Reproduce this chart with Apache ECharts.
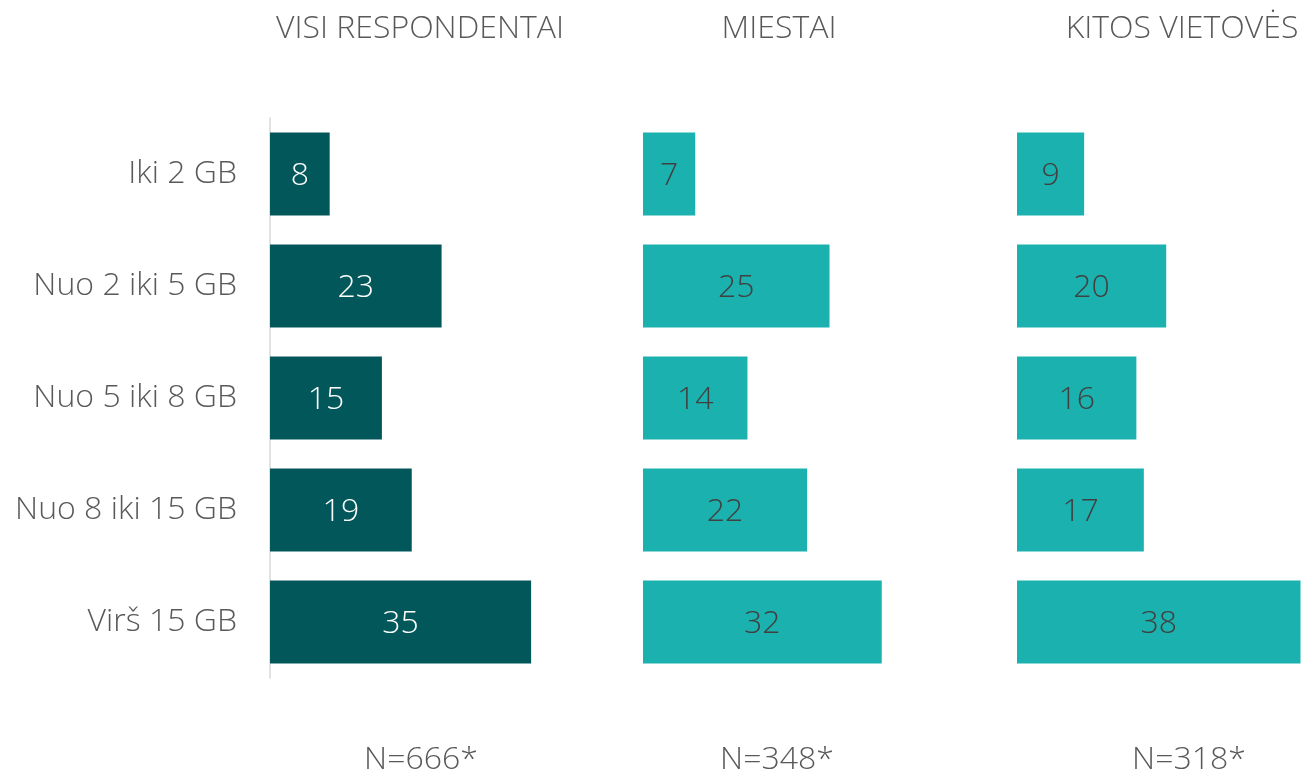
<!DOCTYPE html>
<html>
<head>
<meta charset="utf-8">
<script src="https://cdn.jsdelivr.net/npm/echarts@6/dist/echarts.min.js"></script>
<style>
  html, body { margin: 0; padding: 0; background: #fff; }
  #chart { width: 1304px; height: 773px; }
</style>
</head>
<body>
<div id="chart"></div>
<script>
// kategorijos ir reikšmės
var categories = ['Iki 2 GB', 'Nuo 2 iki 5 GB', 'Nuo 5 iki 8 GB', 'Nuo 8 iki 15 GB', 'Virš 15 GB'];
var groupTitles = ['VISI RESPONDENTAI', 'MIESTAI', 'KITOS VIETOVĖS'];
var sampleLabels = ['N=666*', 'N=348*', 'N=318*'];
var visi = [8, 23, 15, 19, 35];
var miestai = [7, 25, 14, 22, 32];
var kitos = [9, 20, 16, 17, 38];

var font = "'Open Sans', sans-serif";
var gray = '#595959';
var darkTeal = '#02575a';
var lightTeal = '#1bb1ae';

var lefts = [270, 643, 1017];
var titleCenters = [415, 774, 1177];
var sampleCenters = [416, 772, 1184];
var seriesData = [visi, miestai, kitos];
var colors = [darkTeal, lightTeal, lightTeal];
var labelColors = ['#ffffff', '#404040', '#404040'];

var myChart = echarts.init(document.getElementById('chart'));

var grids = [], xAxes = [], yAxes = [], series = [], titles = [];
for (var i = 0; i < 3; i++) {
  grids.push({left: lefts[i], top: 118, width: 283.5, height: 560});
  xAxes.push({
    gridIndex: i, type: 'value', min: 0, max: 38,
    show: false
  });
  yAxes.push({
    gridIndex: i, type: 'category', data: categories, inverse: true,
    axisLine: {show: i === 0, lineStyle: {color: '#d9d9d9', width: 1.5}},
    axisTick: {show: false},
    axisLabel: {
      show: i === 0, margin: 33, color: gray,
      fontFamily: font, fontWeight: 300, fontSize: 32
    }
  });
  series.push({
    type: 'bar', xAxisIndex: i, yAxisIndex: i,
    data: seriesData[i],
    barCategoryGap: '26%',
    itemStyle: {color: colors[i]},
    label: {
      show: true, position: 'inside', offset: [0, 2], color: labelColors[i],
      fontFamily: font, fontWeight: 300, fontSize: 32
    }
  });
  titles.push({
    text: groupTitles[i], left: titleCenters[i], top: 8, textAlign: 'center',
    textStyle: {color: gray, fontFamily: font, fontWeight: 300, fontSize: 32}
  });
  titles.push({
    text: sampleLabels[i], left: sampleCenters[i], top: 739, textAlign: 'center',
    textStyle: {color: gray, fontFamily: font, fontWeight: 300, fontSize: 32}
  });
}

var option = {
  backgroundColor: '#ffffff',
  animation: false,
  title: titles,
  grid: grids,
  xAxis: xAxes,
  yAxis: yAxes,
  series: series
};
myChart.setOption(option);
</script>
</body>
</html>
